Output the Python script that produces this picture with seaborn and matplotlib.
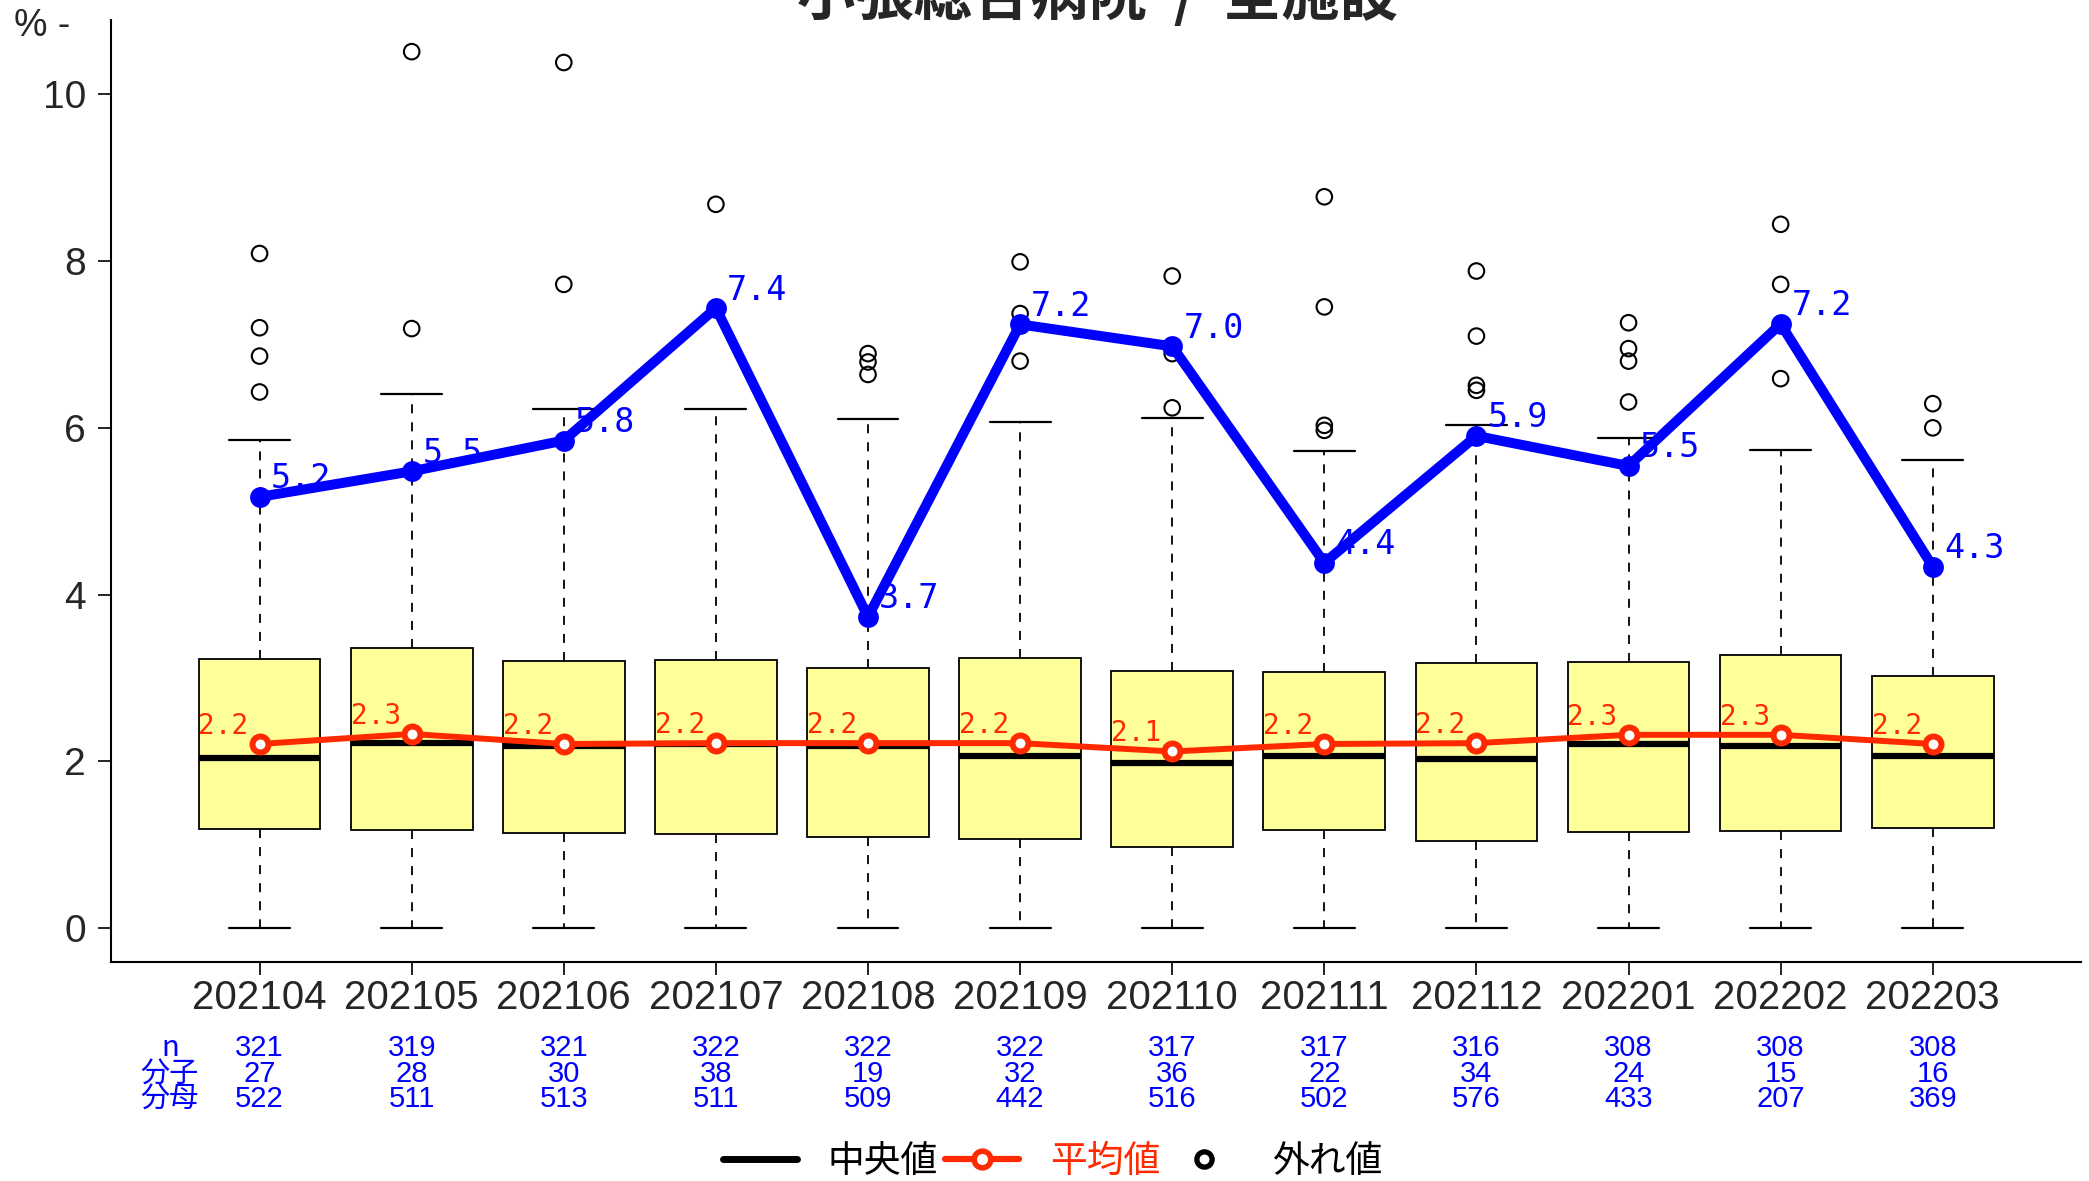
import seaborn as sns
import matplotlib.pyplot as plt
import pandas as pd
from matplotlib.lines import Line2D
from matplotlib.transforms import blended_transform_factory

months = ['202104', '202105', '202106', '202107', '202108', '202109',
          '202110', '202111', '202112', '202201', '202202', '202203']
n_vals = [321, 319, 321, 322, 322, 322, 317, 317, 316, 308, 308, 308]
num_vals = [27, 28, 30, 38, 19, 32, 36, 22, 34, 24, 15, 16]
den_vals = [522, 511, 513, 511, 509, 442, 516, 502, 576, 433, 207, 369]

# box summary (all facilities)
q1 = [1.19, 1.18, 1.14, 1.13, 1.10, 1.07, 0.98, 1.18, 1.05, 1.16, 1.17, 1.20]
med = [2.04, 2.22, 2.19, 2.21, 2.18, 2.06, 1.98, 2.06, 2.03, 2.21, 2.18, 2.06]
q3 = [3.23, 3.36, 3.20, 3.22, 3.12, 3.24, 3.08, 3.07, 3.18, 3.19, 3.28, 3.03]
whis_lo = [0.0, 0.0, 0.0, 0.0, 0.0, 0.0, 0.0, 0.0, 0.0, 0.0, 0.0, 0.0]
whis_hi = [5.85, 6.40, 6.23, 6.23, 6.11, 6.07, 6.12, 5.72, 6.04, 5.88, 5.74, 5.61]
outliers = [
    [8.09, 7.20, 6.86, 6.43],
    [10.51, 7.19],
    [10.38, 7.72],
    [8.68],
    [6.89, 6.79, 6.64],
    [7.99, 7.37, 6.80],
    [7.82, 6.89, 6.24],
    [8.77, 7.45, 6.03, 5.97],
    [7.88, 7.10, 6.51, 6.45],
    [7.26, 6.95, 6.80, 6.31],
    [8.44, 7.72, 6.59],
    [6.29, 6.00],
]
means = [2.21, 2.33, 2.21, 2.22, 2.22, 2.22, 2.12, 2.21, 2.22, 2.32, 2.32, 2.21]
# this hospital
rates = [5.172, 5.479, 5.848, 7.436, 3.733, 7.240, 6.977, 4.382, 5.903, 5.543, 7.246, 4.336]

RED = '#FF2A00'
BLUE = '#0000FF'
NUMFONT = ['Liberation Sans', 'DejaVu Sans']
CJK = ['Noto Sans CJK JP', 'DejaVu Sans']

sns.set_style('ticks')
plt.rcParams['font.family'] = NUMFONT + ['Noto Sans CJK JP']

pos = list(range(len(months)))

fig = plt.figure(figsize=(20.89, 11.81), dpi=100)
ax = fig.add_axes([0.0529, 0.1857, 0.9433, 0.7974])

stats = []
for i in pos:
    stats.append(dict(med=med[i], q1=q1[i], q3=q3[i], whislo=whis_lo[i],
                      whishi=whis_hi[i], fliers=[]))
ax.bxp(stats, positions=pos, widths=0.8, capwidths=0.4, patch_artist=True,
       showfliers=False,
       boxprops=dict(facecolor='#FFFF99', edgecolor='black', linewidth=1.3),
       medianprops=dict(color='black', linewidth=4.5, solid_capstyle='butt'),
       whiskerprops=dict(color='black', linewidth=1.3, linestyle=(0, (5, 5))),
       capprops=dict(color='black', linewidth=1.6))

out_df = pd.DataFrame([(i, v) for i in pos for v in outliers[i]], columns=['x', 'y'])
sns.scatterplot(data=out_df, x='x', y='y', ax=ax, marker='o', s=125,
                facecolor='none', edgecolor='black', linewidth=1.5, zorder=3)

sns.lineplot(x=pos, y=means, ax=ax, color=RED, linewidth=4.3, marker='o',
             markersize=11.5, markerfacecolor='white', markeredgecolor=RED,
             markeredgewidth=4.3, zorder=4)
sns.lineplot(x=pos, y=rates, ax=ax, color=BLUE, linewidth=7.2, marker='o',
             markersize=15, markeredgecolor=BLUE, markeredgewidth=0, zorder=5)

for i in pos:
    ax.annotate(f'{rates[i]:.1f}', (i, rates[i]), xytext=(8, 13),
                textcoords='offset points', ha='left', va='center',
                color=BLUE, fontsize=24, family='DejaVu Sans Mono', zorder=6)
    ax.annotate(f'{means[i]:.1f}', (i, means[i]), xytext=(-44, 13),
                textcoords='offset points', ha='left', va='center',
                color=RED, fontsize=20, family='DejaVu Sans Mono', zorder=6)

ax.set_xlim(-0.98, 11.975)
ax.set_ylim(-0.40, 10.89)
ax.set_xticks(pos)
ax.set_xticklabels(months)
ax.set_yticks([0, 2, 4, 6, 8, 10])
ax.tick_params(axis='both', direction='out', length=9.5, width=1.2, color='black')
ax.tick_params(axis='x', labelsize=29, pad=3)
ax.tick_params(axis='y', labelsize=28, pad=8)
ax.set_xlabel('')
ax.set_ylabel('')
sns.despine(ax=ax)
for s in ['left', 'bottom']:
    ax.spines[s].set_linewidth(1.5)
    ax.spines[s].set_color('black')

# n / numerator / denominator table under the axis
tr = blended_transform_factory(ax.transData, fig.transFigure)
row_y = [0.1125, 0.0905, 0.0695]
row_names = ['n', '分子', '分母']
row_vals = [n_vals, num_vals, den_vals]
for name, yy in zip(row_names, row_y):
    ax.text(-0.59, yy, name, transform=tr, ha='center', va='center',
            color=BLUE, fontsize=21, family=CJK)
for vals, yy in zip(row_vals, row_y):
    for i in pos:
        ax.text(i, yy, str(vals[i]), transform=tr, ha='center', va='center',
                color=BLUE, fontsize=21, family=NUMFONT)

fig.text(0.5256, 0.987, '小張総合病院  /  全施設', ha='center', va='baseline',
         fontsize=42, fontweight='bold', family=CJK)
fig.text(14 / 2089, 1 - 26 / 1181, '% -', ha='left', va='center', fontsize=27)

handles = [
    Line2D([], [], color='black', linewidth=5),
    Line2D([], [], color=RED, linewidth=4.5, marker='o', markersize=12,
           markerfacecolor='white', markeredgecolor=RED, markeredgewidth=4),
    Line2D([], [], linestyle='none', marker='o', markersize=11,
           markerfacecolor='none', markeredgecolor='black', markeredgewidth=3.8),
]
leg = fig.legend(handles, ['中央値', '平均値', '外れ値'], loc='center',
                 bbox_to_anchor=(0.504, 0.0165), ncol=3, frameon=False,
                 handlelength=2.0, handletextpad=0.84, columnspacing=0.2,
                 prop={'family': CJK, 'size': 26.5})
for txt, c in zip(leg.get_texts(), ['black', RED, 'black']):
    txt.set_color(c)

fig.savefig('out.png', dpi=100)
